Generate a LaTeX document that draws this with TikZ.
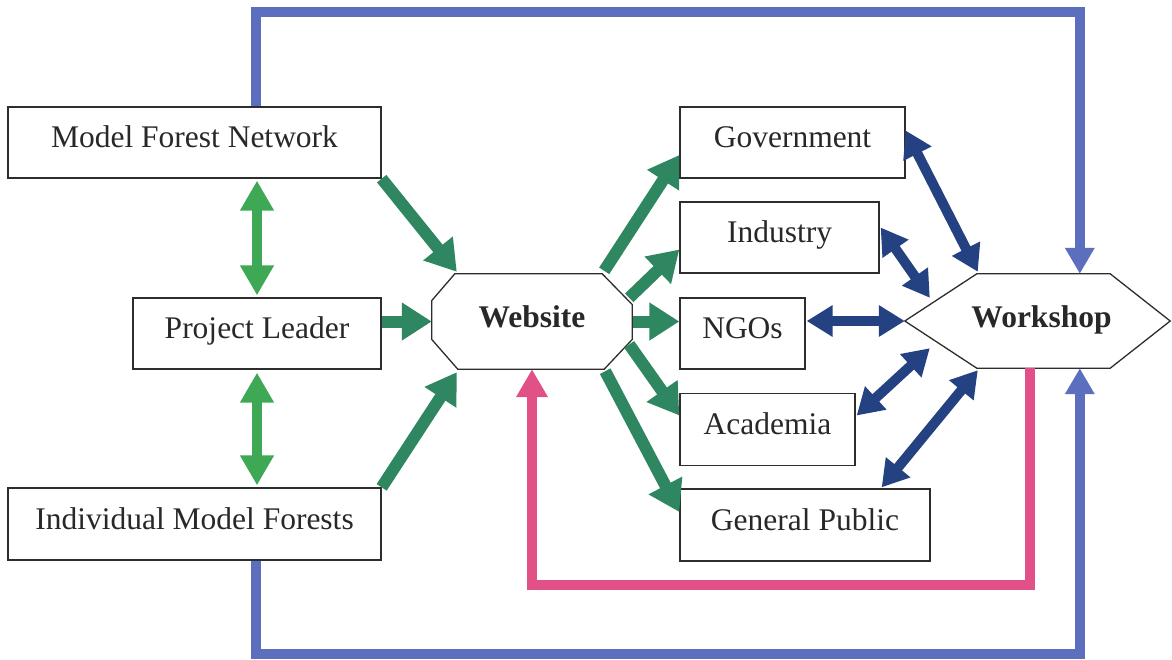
\documentclass[tikz,border=0pt]{standalone}
\usepackage{fontspec}
\setmainfont{Liberation Serif}
\usetikzlibrary{arrows.meta,calc}
\definecolor{lgreen}{RGB}{62,168,84}
\definecolor{dgreen}{RGB}{46,135,96}
\definecolor{navyblue}{RGB}{36,66,130}
\definecolor{lblue}{RGB}{92,110,190}
\definecolor{mypink}{RGB}{226,80,136}
\definecolor{boxgray}{RGB}{45,45,45}
\definecolor{txt}{RGB}{40,40,40}
\tikzset{
  box/.style={draw=boxgray, line width=1.3pt, fill=white, inner sep=0pt, text=txt,
    text height=25pt, text depth=14.2pt,
    font=\fontsize{31.5}{36}\selectfont},
  hexbox/.style={inner sep=0pt, text=txt, text height=26pt, text depth=13.2pt,
    font=\fontsize{31.5}{36}\selectfont\bfseries},
  hexline/.style={draw=boxgray, line width=1.3pt, line join=miter},
  garrow/.style={dgreen, line width=12pt, -{Triangle[width=36pt,length=30pt]}},
  lgdouble/.style={lgreen, line width=10pt, {Triangle[width=32pt,length=30pt]}-{Triangle[width=32pt,length=30pt]}},
  ndouble/.style={navyblue, line width=10pt, {Triangle[width=30pt,length=26pt]}-{Triangle[width=30pt,length=26pt]}},
  bline/.style={lblue, line width=10pt, line join=miter, -{Triangle[width=28pt,length=26pt]}},
  pline/.style={mypink, line width=10pt, line join=miter, -{Triangle[width=30pt,length=28pt]}}
}
\begin{document}
\begin{tikzpicture}[x=1pt,y=-1pt]
\useasboundingbox[fill=white] (0,0) rectangle (1172,659);

% left column
\node[box, minimum width=373pt, minimum height=71pt] (mfn) at (194.5,142.5) {Model Forest Network};
\node[box, minimum width=248pt, minimum height=71pt] (pl) at (257,333.5) {Project Leader};
\node[box, minimum width=373pt, minimum height=72pt] (imf) at (194.5,524) {Individual Model Forests};

% right column
\node[box, minimum width=225pt, minimum height=71pt] (gov) at (792.5,142.5) {Government};
\node[box, minimum width=199pt, minimum height=71pt] (ind) at (779.5,237.5) {Industry};
\node[box, minimum width=125pt, minimum height=71pt] (ngo) at (742.5,333.5) {NGOs};
\node[box, minimum width=175pt, minimum height=72pt] (aca) at (767.5,429.5) {Academia};
\node[box, minimum width=250pt, minimum height=72pt] (gp) at (805,525) {General Public};

% Website (octagon)
\node[hexbox, minimum width=200pt, minimum height=95pt] (web) at (532,321.5) {Website};
\draw[hexline] ($(web.north west)+(23,0)$) -- ($(web.north east)+(-30,0)$) -- ($(web.east)+(0,-17)$)
  -- ($(web.east)+(0,18)$) -- ($(web.south east)+(-28,0)$) -- ($(web.south west)+(26,0)$)
  -- ($(web.west)+(0,18)$) -- ($(web.west)+(0,-21)$) -- cycle;

% Workshop (hexagon)
\node[hexbox, minimum width=265pt, minimum height=94pt] (ws) at (1037.5,321) {\hspace*{8pt}Workshop};
\draw[hexline] (ws.west) -- ($(ws.north west)+(72,0)$) -- ($(ws.north east)+(-60,0)$) -- (ws.east)
  -- ($(ws.south east)+(-60,0)$) -- ($(ws.south west)+(72,0)$) -- cycle;

% light green double arrows
\draw[lgdouble] ($(pl.north)+(0,-2)$) -- ($(pl.north |- mfn.south)+(0,2)$);
\draw[lgdouble] ($(pl.south)+(0,3)$) -- ($(pl.south |- imf.north)+(0,-2)$);

% dark green arrows into website
\draw[garrow] ($(mfn.south east)+(0,0)$) -- ($(web.north west)+(25,-2)$);
\draw[garrow] (pl.east |- web.west) -- (web.west);
\draw[garrow] (imf.north east) -- ($(web.south west)+(25,3)$);

% dark green arrows out of website
\draw[garrow] ($(web.north east)+(-28,-3)$) -- ($(gov.west)+(0,12.5)$);
\draw[garrow] ($(web.north east)+(-3,24)$) -- ($(ind.west)+(0,12)$);
\draw[garrow] ($(web.east)+(1,0)$) -- (web.east -| ngo.west);
\draw[garrow] ($(web.east)+(-3,23)$) -- ($(aca.west)+(0,-14)$);
\draw[garrow] ($(web.south east)+(-27,2)$) -- ($(gp.west)+(0,-13)$);

% navy double arrows to workshop
\draw[ndouble] ($(gov.east)+(0,-12)$) -- ($(ws.north west)+(73,-2)$);
\draw[ndouble] ($(ind.east)+(1,-10)$) -- ($(ws.north west)+(25,24)$);
\draw[ndouble] ($(ngo.east |- ws.west)+(1,0)$) -- (ws.west);
\draw[ndouble] ($(aca.east)+(1,-14)$) -- ($(ws.south west)+(25,-20)$);
\draw[ndouble] ($(gp.north east)+(-49,-1)$) -- ($(ws.south west)+(73,2)$);

% blue feedback lines
\coordinate (mfntop) at ($(mfn.north west)+(249,0)$);
\coordinate (wstop) at ($(ws.north west)+(175,0)$);
\draw[bline] (mfntop) -- (mfntop |- 0,12) -- (wstop |- 0,12) -- (wstop);
\coordinate (imfbot) at ($(imf.south west)+(249,0)$);
\coordinate (wsbot) at ($(ws.south west)+(175,0)$);
\draw[bline] (imfbot) -- (imfbot |- 0,654) -- (wsbot |- 0,654) -- (wsbot);

% pink feedback line
\coordinate (wspink) at ($(ws.south west)+(125,0)$);
\draw[pline] (wspink) -- (wspink |- 0,585) -- (web.south |- 0,585) -- (web.south);
\end{tikzpicture}
\end{document}
